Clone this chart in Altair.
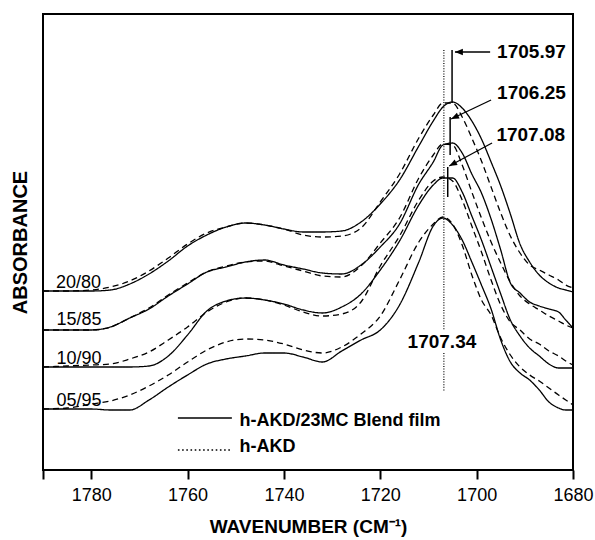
import math
import altair as alt
import pandas as pd

# ---- data ----
wavenumber = [1790, 1785, 1780, 1776, 1772, 1768, 1764, 1760, 1756, 1752, 1748, 1744,
              1740, 1736, 1732, 1728, 1724, 1720, 1716, 1712, 1709, 1707, 1705, 1703,
              1701, 1699, 1697, 1695, 1693, 1691, 1689, 1687, 1685, 1683, 1681.5, 1680]

samples = ["20/80", "15/85", "10/90", "05/95"]

blend_2080 = [179, 179, 179, 180, 186, 196, 209, 224, 235, 243, 247, 245, 241, 238, 238, 239, 248, 266,
              290, 324, 349, 363, 368, 362, 349, 331, 308, 284, 256, 226, 208, 195, 187, 182, 180, 178]
hakd_2080 = [179, 179, 180, 183, 189, 199, 212, 226, 237, 243, 247, 245, 241, 235, 233, 234, 242, 268,
             296, 332, 355, 367, 367, 353, 332, 309, 283, 257, 234, 217, 205, 200, 195, 190, 185, 182]
blend_1585 = [140, 140, 140, 143, 152, 161, 174, 186, 198, 203, 208, 210, 205, 201, 197, 196, 205, 223,
              246, 286, 308, 325, 327, 317, 296, 277, 251, 220, 187, 177, 168, 164, 161, 158, 150, 142]
hakd_1585 = [140, 140, 140, 143, 152, 162, 175, 187, 198, 204, 208, 209, 204, 199, 194, 193, 204, 227,
             252, 292, 315, 326, 325, 305, 278, 252, 228, 207, 188, 174, 166, 160, 154, 149, 145, 142]
blend_1090 = [103, 103, 103, 103, 103, 104, 114, 135, 159, 169, 172, 170, 166, 160, 157, 163, 176, 200,
              229, 265, 285, 292, 292, 278, 254, 230, 203, 176, 150, 134, 122, 114, 106, 102, 102, 102]
hakd_1090 = [103, 104, 105, 106, 111, 118, 130, 143, 158, 168, 172, 170, 165, 158, 154, 156, 168, 204,
             234, 270, 289, 293, 289, 270, 244, 218, 190, 165, 148, 140, 131, 126, 119, 114, 109, 105]
blend_0595 = [61, 61, 61, 60, 60, 70, 83, 95, 106, 111, 114, 117, 117, 113, 108, 119, 130, 140,
              165, 208, 244, 252, 245, 230, 208, 185, 161, 130, 108, 97, 90, 80, 68, 62, 60, 60]
hakd_0595 = [61, 62, 66, 69, 75, 84, 95, 108, 120, 128, 131, 130, 126, 120, 117, 123, 136, 154,
             190, 228, 246, 253, 246, 225, 195, 170, 155, 132, 115, 103, 95, 89, 82, 75, 70, 65]

blend_series = [blend_2080, blend_1585, blend_1090, blend_0595]
hakd_series = [hakd_2080, hakd_1585, hakd_1090, hakd_0595]

# peak markers (wavenumber of the drawn lines, absorbance range)
dotted_line_wn = 1706.8
dotted_segments = [(420, 140), (117, 78)]
solid_line_wn = [1705.1, 1705.5, 1706.0]
solid_line_top = [420, 353, 303]
solid_line_bottom = [367, 315, 273]

peak_labels = ["1705.97", "1706.25", "1707.08", "1707.34"]

# ---- build tables ----
rows = []
for s, b, h in zip(samples, blend_series, hakd_series):
    for w, a in zip(wavenumber, b):
        rows.append({"wn": w, "a": a, "sample": s, "film": "blend", "key": s + "-blend"})
    for w, a in zip(wavenumber, h):
        rows.append({"wn": w, "a": a, "sample": s, "film": "hakd", "key": s + "-hakd"})
curves = pd.DataFrame(rows)

W, H = 530, 456
XMIN, XMAX, YMAX = 1680, 1790, 456
xs = alt.Scale(domain=[XMIN, XMAX], reverse=True, nice=False, zero=False)
ys = alt.Scale(domain=[0, YMAX], nice=False, zero=False)

FONT = "Liberation Sans"

x_axis = alt.Axis(values=[1790, 1780, 1760, 1740, 1720, 1700, 1680],
                  labelExpr="datum.value == 1790 ? '' : datum.label",
                  format="d", tickSize=9, tickWidth=2, tickColor="black",
                  domain=False, grid=False, labelFont=FONT, labelFontSize=18,
                  labelColor="black", labelPadding=7, labelFlush=False, labelOverlap=False,
                  title="WAVENUMBER (CM⁻¹)", titleFont=FONT, titleFontSize=19,
                  titleFontWeight="bold", titlePadding=13, titleColor="black")
y_axis = alt.Axis(title="ABSORBANCE", labels=False, ticks=False, domain=False, grid=False,
                  titleFont=FONT, titleFontSize=20, titleFontWeight="bold",
                  titlePadding=13, titleColor="black")


def X(field):
    return alt.X(field, scale=xs, axis=x_axis)


def Y(field):
    return alt.Y(field, scale=ys, axis=y_axis)


lines = alt.Chart(curves).mark_line(color="black", strokeWidth=1.3, interpolate="monotone").encode(
    x=X("wn:Q"),
    y=Y("a:Q"),
    detail="key:N",
    strokeDash=alt.StrokeDash("film:N", scale=alt.Scale(domain=["blend", "hakd"],
                                                         range=[[1, 0], [6, 4]]), legend=None),
)

# vertical marker lines
dot_df = pd.DataFrame([{"wn": dotted_line_wn, "a": t, "a2": b} for t, b in dotted_segments])
dot_rule = alt.Chart(dot_df).mark_rule(color="black", strokeWidth=1.2, strokeDash=[1, 1.6]).encode(
    x=X("wn:Q"), y=Y("a:Q"), y2="a2:Q")

sol_df = pd.DataFrame({"wn": solid_line_wn, "a": solid_line_top, "a2": solid_line_bottom})
sol_rule = alt.Chart(sol_df).mark_rule(color="black", strokeWidth=1.5).encode(
    x=X("wn:Q"), y=Y("a:Q"), y2="a2:Q")

# arrows
arrow_from = [(1697.2, 418), (1697.0, 370), (1696.8, 327)]
arrow_to = [(1704.5, 418), (1705.3, 351), (1705.7, 304)]
arr_rows = []
for (x1, y1), (x2, y2) in zip(arrow_from, arrow_to):
    dx = -(x2 - x1) * W / (XMAX - XMIN)
    dy = -(y2 - y1) * H / YMAX
    ang = math.degrees(math.atan2(dx, -dy)) % 360
    arr_rows.append({"wn": x1, "a": y1, "wn2": x2, "a2": y2, "ang": ang})
arr_df = pd.DataFrame(arr_rows)
arr_line = alt.Chart(arr_df).mark_rule(color="black", strokeWidth=1.3).encode(
    x=X("wn:Q"), y=Y("a:Q"), x2="wn2:Q", y2="a2:Q")
arr_head = alt.Chart(arr_df).mark_point(shape="M0,0 L-0.4,1 L0.4,1 Z", filled=True,
                                        color="black", size=250, opacity=1).encode(
    x=X("wn2:Q"), y=Y("a2:Q"),
    angle=alt.Angle("ang:Q", scale=None))

# peak labels
pl_df = pd.DataFrame({"wn": [1695.75, 1695.75, 1695.9, 1707.2],
                      "a": [418, 377, 335, 128],
                      "txt": peak_labels,
                      "al": ["left", "left", "left", "center"]})
pl_left = alt.Chart(pl_df[pl_df.al == "left"]).mark_text(
    font=FONT, fontSize=19, fontWeight="bold", align="left", baseline="middle", color="black").encode(
    x=X("wn:Q"), y=Y("a:Q"), text="txt:N")
pl_center = alt.Chart(pl_df[pl_df.al == "center"]).mark_text(
    font=FONT, fontSize=19, fontWeight="bold", align="center", baseline="middle", color="black").encode(
    x=X("wn:Q"), y=Y("a:Q"), text="txt:N")

# sample labels
sl_df = pd.DataFrame({"wn": [1787.3, 1787.2, 1787.2, 1787.2], "a": [182, 145, 106, 64],
                      "txt": samples})
sample_labels = alt.Chart(sl_df).mark_text(
    font=FONT, fontSize=18, align="left", baseline="alphabetic", color="black").encode(
    x=X("wn:Q"), y=Y("a:Q"), text="txt:N")

# legend
leg_names = ["h-AKD/23MC Blend film", "h-AKD"]
leg_df = pd.DataFrame({"wn": [1762.0, 1762.0], "wn2": [1750.8, 1750.8], "a": [52, 20],
                       "ta": [49, 23], "tx": [1749.2, 1749.2], "txt": leg_names,
                       "film": ["blend", "hakd"]})
leg_solid = alt.Chart(leg_df[leg_df.film == "blend"]).mark_rule(color="black", strokeWidth=1.5).encode(
    x=X("wn:Q"), x2="wn2:Q", y=Y("a:Q"))
leg_dot = alt.Chart(leg_df[leg_df.film == "hakd"]).mark_rule(
    color="black", strokeWidth=1.6, strokeDash=[1.6, 2.6]).encode(
    x=X("wn:Q"), x2="wn2:Q", y=Y("a:Q"))
leg_text = alt.Chart(leg_df).mark_text(
    font=FONT, fontSize=18, fontWeight="bold", align="left", baseline="middle", color="black").encode(
    x=X("tx:Q"), y=Y("ta:Q"), text="txt:N")

chart = alt.layer(lines, dot_rule, sol_rule, arr_line, arr_head, pl_left, pl_center,
                  sample_labels, leg_solid, leg_dot, leg_text).properties(
    width=W, height=H,
    padding={"left": 43, "top": 14, "right": 22, "bottom": 70},
    autosize=alt.AutoSizeParams(type="none"),
    background="white",
).configure_view(stroke="black", strokeWidth=2)

chart.save("out.html", embed_options={"renderer": "svg", "actions": False})
